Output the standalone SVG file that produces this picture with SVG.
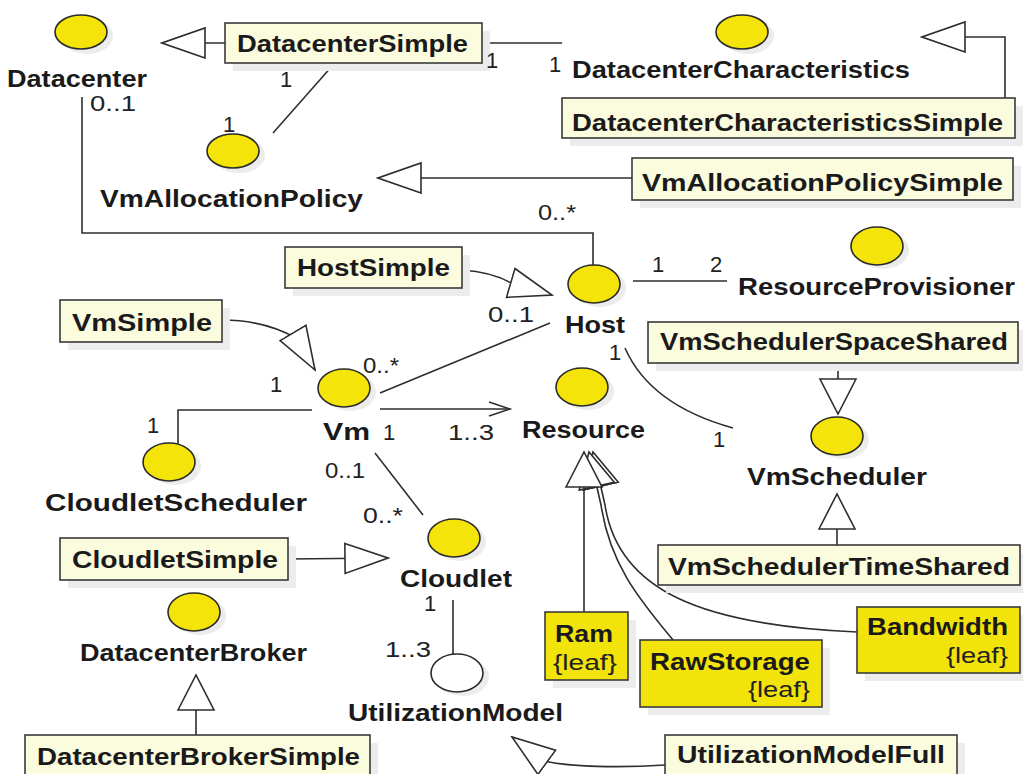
<svg xmlns="http://www.w3.org/2000/svg" width="1023" height="774" viewBox="0 0 1023 774">
  <style>
    .lbl{font-family:"Liberation Sans",Arial,sans-serif;font-weight:bold;font-size:23px;fill:#1a1a1a}
    .m{font-family:"Liberation Sans",Arial,sans-serif;font-size:22px;fill:#222}
    .box{fill:#fbfbde;stroke:#3a3a3a;stroke-width:1.6}
    .ybox{fill:#f2e30a;stroke:#3a3a3a;stroke-width:1.6}
    .ic{fill:#f4e40a;stroke:#2a2a2a;stroke-width:1.6}
    .ic0{fill:#ffffff;stroke:#2a2a2a;stroke-width:1.6}
    .sh{fill:#ececec}
    .c{fill:none;stroke:#2e2e2e;stroke-width:1.6}
    .g{marker-end:url(#gen)}
    .g2{marker-end:url(#gen2)}
  </style>
  <defs>
    <!-- hollow generalization head, horizontal-ish use -->
    <marker id="gen" markerUnits="userSpaceOnUse" viewBox="0 0 46 34" markerWidth="46" markerHeight="34" refX="44" refY="17" orient="auto">
      <path d="M1,2 L44,17 L1,32 Z" fill="#fff" stroke="#2e2e2e" stroke-width="1.6"/>
    </marker>
    <!-- shorter, wider hollow head for vertical use -->
    <marker id="gen2" markerUnits="userSpaceOnUse" viewBox="0 0 38 40" markerWidth="38" markerHeight="40" refX="36" refY="20" orient="auto">
      <path d="M1,2 L36,20 L1,38 Z" fill="#fff" stroke="#2e2e2e" stroke-width="1.6"/>
    </marker>
    <!-- open navigation arrow -->
    <marker id="open" markerUnits="userSpaceOnUse" viewBox="0 0 26 20" markerWidth="26" markerHeight="20" refX="23" refY="10" orient="auto">
      <path d="M2,3 L23,10 L2,17" fill="none" stroke="#2e2e2e" stroke-width="1.6"/>
    </marker>
  </defs>

  <rect width="1023" height="774" fill="#ffffff"/>

  <!-- connectors -->
  <g id="connectors">
    <path class="c g" d="M225,43 L162,43"/>
    <path class="c" d="M482,43 L562,43"/>
    <path class="c" d="M333,65 L273,133"/>
    <path class="c g" d="M1005,98 L1005,37 L922,37"/>
    <path class="c g" d="M632,178 L378,178"/>
    <path class="c" d="M82,97 L82,233 L593,233 L593,265"/>
    <path class="c g" d="M462,270 Q492,272 511,283 L552,295"/>
    <path class="c g" d="M222,320 C255,320 278,328 296,338 L315,370"/>
    <path class="c" d="M633,281 L727,281"/>
    <path class="c g2" d="M838,363 L838,414"/>
    <path class="c g2" d="M837,545 L837,494"/>
    <path class="c" d="M625,348 Q650,405 733,428"/>
    <path class="c" d="M380,393 L550,323"/>
    <path class="c" d="M380,409 L510,409" marker-end="url(#open)"/>
    <path class="c" d="M312,410 L178,410 L178,444"/>
    <path class="c" d="M375,453 L423,515"/>
    <path class="c g" d="M288,559 L388,558"/>
    <path class="c" d="M453,600 L453,655"/>
    <path class="c g" d="M665,765 C620,768 570,767 545,761 L512,737"/>
    <path class="c g2" d="M196,735 L196,675"/>
    <path class="c g2" d="M857,632 C700,625 618,590 605,505 L593,452"/>
    <path class="c g2" d="M673,640 C640,600 610,565 601,505 L589,452"/>
    <path class="c g2" d="M584,612 L584,452"/>
  </g>

  <g id="Datacenter">
    <ellipse class="sh" cx="87" cy="36" rx="26" ry="18"/>
    <ellipse class="ic" cx="81" cy="32" rx="26" ry="17"/>
    <text class="lbl" x="7" y="87" textLength="140" lengthAdjust="spacingAndGlyphs">Datacenter</text>
    <text class="m" x="90" y="111" textLength="46" lengthAdjust="spacingAndGlyphs">0..1</text>
  </g>

  <g id="DatacenterSimple">
    <rect class="sh" x="233" y="31" width="257" height="40"/>
    <rect class="box" x="225" y="23" width="257" height="40"/>
    <text class="lbl" x="237" y="52" textLength="231" lengthAdjust="spacingAndGlyphs">DatacenterSimple</text>
    <text class="m" x="486" y="68">1</text>
    <text class="m" x="280" y="87">1</text>
  </g>

  <g id="DatacenterCharacteristics">
    <ellipse class="sh" cx="748" cy="36" rx="26" ry="18"/>
    <ellipse class="ic" cx="742" cy="32" rx="26" ry="17"/>
    <text class="m" x="549" y="72">1</text>
    <text class="lbl" x="572" y="78" textLength="338" lengthAdjust="spacingAndGlyphs">DatacenterCharacteristics</text>
  </g>

  <g id="DatacenterCharacteristicsSimple">
    <rect class="sh" x="570" y="106" width="453" height="40"/>
    <rect class="box" x="562" y="98" width="453" height="40"/>
    <text class="lbl" x="572" y="131" textLength="431" lengthAdjust="spacingAndGlyphs">DatacenterCharacteristicsSimple</text>
  </g>

  <g id="VmAllocationPolicy">
    <ellipse class="sh" cx="239" cy="155" rx="26" ry="18"/>
    <ellipse class="ic" cx="233" cy="151" rx="26" ry="17"/>
    <text class="m" x="223" y="132">1</text>
    <text class="lbl" x="100" y="207" textLength="263" lengthAdjust="spacingAndGlyphs">VmAllocationPolicy</text>
  </g>

  <g id="VmAllocationPolicySimple">
    <rect class="sh" x="640" y="166" width="381" height="42"/>
    <rect class="box" x="632" y="158" width="381" height="42"/>
    <text class="lbl" x="642" y="191" textLength="361" lengthAdjust="spacingAndGlyphs">VmAllocationPolicySimple</text>
  </g>

  <g id="Host">
    <ellipse class="sh" cx="600" cy="288" rx="26" ry="19"/>
    <ellipse class="ic" cx="594" cy="284" rx="26" ry="19"/>
    <text class="m" x="538" y="220" textLength="38" lengthAdjust="spacingAndGlyphs">0..*</text>
    <text class="lbl" x="565" y="333" textLength="60" lengthAdjust="spacingAndGlyphs">Host</text>
    <text class="m" x="488" y="322" textLength="46" lengthAdjust="spacingAndGlyphs">0..1</text>
    <text class="m" x="652" y="272">1</text>
    <text class="m" x="609" y="360">1</text>
  </g>

  <g id="HostSimple">
    <rect class="sh" x="293" y="255" width="177" height="41"/>
    <rect class="box" x="285" y="247" width="177" height="41"/>
    <text class="lbl" x="297" y="276" textLength="153" lengthAdjust="spacingAndGlyphs">HostSimple</text>
  </g>

  <g id="ResourceProvisioner">
    <ellipse class="sh" cx="883" cy="250" rx="26" ry="19"/>
    <ellipse class="ic" cx="877" cy="246" rx="26" ry="19"/>
    <text class="m" x="710" y="272">2</text>
    <text class="lbl" x="738" y="295" textLength="277" lengthAdjust="spacingAndGlyphs">ResourceProvisioner</text>
  </g>

  <g id="VmSchedulerSpaceShared">
    <rect class="sh" x="656" y="330" width="367" height="41"/>
    <rect class="box" x="648" y="322" width="370" height="41"/>
    <text class="lbl" x="660" y="350" textLength="348" lengthAdjust="spacingAndGlyphs">VmSchedulerSpaceShared</text>
  </g>

  <g id="VmScheduler">
    <ellipse class="sh" cx="843" cy="440" rx="26" ry="19"/>
    <ellipse class="ic" cx="837" cy="436" rx="26" ry="19"/>
    <text class="m" x="713" y="447">1</text>
    <text class="lbl" x="747" y="485" textLength="180" lengthAdjust="spacingAndGlyphs">VmScheduler</text>
  </g>

  <g id="VmSchedulerTimeShared">
    <rect class="sh" x="666" y="553" width="357" height="40"/>
    <rect class="box" x="658" y="545" width="362" height="40"/>
    <text class="lbl" x="668" y="575" textLength="342" lengthAdjust="spacingAndGlyphs">VmSchedulerTimeShared</text>
  </g>

  <g id="VmSimple">
    <rect class="sh" x="68" y="308" width="162" height="42"/>
    <rect class="box" x="60" y="300" width="162" height="42"/>
    <text class="lbl" x="72" y="331" textLength="140" lengthAdjust="spacingAndGlyphs">VmSimple</text>
  </g>

  <g id="Vm">
    <ellipse class="sh" cx="350" cy="392" rx="26" ry="19"/>
    <ellipse class="ic" cx="344" cy="388" rx="26" ry="19"/>
    <text class="m" x="363" y="373" textLength="36" lengthAdjust="spacingAndGlyphs">0..*</text>
    <text class="m" x="270" y="392">1</text>
    <text class="lbl" x="323" y="440" textLength="47" lengthAdjust="spacingAndGlyphs">Vm</text>
    <text class="m" x="383" y="440">1</text>
    <text class="m" x="448" y="440" textLength="46" lengthAdjust="spacingAndGlyphs">1..3</text>
    <text class="m" x="325" y="478" textLength="40" lengthAdjust="spacingAndGlyphs">0..1</text>
  </g>

  <g id="Resource">
    <ellipse class="sh" cx="588" cy="391" rx="26" ry="19"/>
    <ellipse class="ic" cx="582" cy="387" rx="26" ry="19"/>
    <text class="lbl" x="522" y="438" textLength="123" lengthAdjust="spacingAndGlyphs">Resource</text>
  </g>

  <g id="CloudletScheduler">
    <ellipse class="sh" cx="175" cy="466" rx="26" ry="19"/>
    <ellipse class="ic" cx="169" cy="462" rx="26" ry="19"/>
    <text class="m" x="147" y="433">1</text>
    <text class="lbl" x="45" y="511" textLength="262" lengthAdjust="spacingAndGlyphs">CloudletScheduler</text>
  </g>

  <g id="Cloudlet">
    <ellipse class="sh" cx="460" cy="542" rx="26" ry="19"/>
    <ellipse class="ic" cx="454" cy="538" rx="26" ry="19"/>
    <text class="m" x="363" y="523" textLength="40" lengthAdjust="spacingAndGlyphs">0..*</text>
    <text class="lbl" x="400" y="587" textLength="112" lengthAdjust="spacingAndGlyphs">Cloudlet</text>
    <text class="m" x="424" y="611">1</text>
  </g>

  <g id="CloudletSimple">
    <rect class="sh" x="68" y="546" width="228" height="42"/>
    <rect class="box" x="60" y="538" width="228" height="42"/>
    <text class="lbl" x="72" y="568" textLength="206" lengthAdjust="spacingAndGlyphs">CloudletSimple</text>
  </g>

  <g id="DatacenterBroker">
    <ellipse class="sh" cx="200" cy="616" rx="26" ry="19"/>
    <ellipse class="ic" cx="194" cy="612" rx="26" ry="19"/>
    <text class="lbl" x="80" y="661" textLength="227" lengthAdjust="spacingAndGlyphs">DatacenterBroker</text>
  </g>

  <g id="DatacenterBrokerSimple">
    <rect class="sh" x="33" y="743" width="345" height="45"/>
    <rect class="box" x="25" y="735" width="345" height="45"/>
    <text class="lbl" x="37" y="765" textLength="323" lengthAdjust="spacingAndGlyphs">DatacenterBrokerSimple</text>
  </g>

  <g id="UtilizationModel">
    <ellipse class="sh" cx="463" cy="677" rx="26" ry="19"/>
    <ellipse class="ic0" cx="457" cy="673" rx="26" ry="19"/>
    <text class="m" x="385" y="657" textLength="46" lengthAdjust="spacingAndGlyphs">1..3</text>
    <text class="lbl" x="348" y="721" textLength="215" lengthAdjust="spacingAndGlyphs">UtilizationModel</text>
  </g>

  <g id="UtilizationModelFull">
    <rect class="sh" x="673" y="743" width="292" height="45"/>
    <rect class="box" x="665" y="735" width="292" height="45"/>
    <text class="lbl" x="677" y="763" textLength="268" lengthAdjust="spacingAndGlyphs">UtilizationModelFull</text>
  </g>

  <g id="Ram">
    <rect class="sh" x="553" y="620" width="83" height="68"/>
    <rect class="ybox" x="545" y="612" width="83" height="68"/>
    <text class="lbl" x="555" y="642" textLength="58" lengthAdjust="spacingAndGlyphs">Ram</text>
    <text class="m" x="553" y="670" textLength="64" lengthAdjust="spacingAndGlyphs">{leaf}</text>
  </g>

  <g id="RawStorage">
    <rect class="sh" x="648" y="648" width="182" height="67"/>
    <rect class="ybox" x="640" y="640" width="182" height="67"/>
    <text class="lbl" x="650" y="670" textLength="160" lengthAdjust="spacingAndGlyphs">RawStorage</text>
    <text class="m" x="748" y="697" textLength="62" lengthAdjust="spacingAndGlyphs">{leaf}</text>
  </g>

  <g id="Bandwidth">
    <rect class="sh" x="865" y="615" width="158" height="66"/>
    <rect class="ybox" x="857" y="607" width="163" height="66"/>
    <text class="lbl" x="867" y="635" textLength="141" lengthAdjust="spacingAndGlyphs">Bandwidth</text>
    <text class="m" x="946" y="663" textLength="62" lengthAdjust="spacingAndGlyphs">{leaf}</text>
  </g>
</svg>
